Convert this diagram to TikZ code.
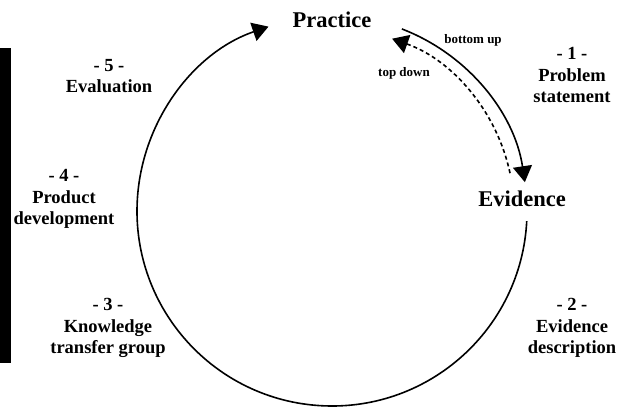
\documentclass[tikz,border=0pt]{standalone}
\usepackage{fontspec}
\setmainfont{Liberation Serif}
\usepackage{tikz}
\usetikzlibrary{positioning,shapes,arrows,arrows.meta}

\tikzset{
  mainlabel/.style={font=\fontsize{22.5}{26}\selectfont\bfseries, inner sep=0pt},
  phaselabel/.style={font=\fontsize{18.5}{21.5}\selectfont\bfseries, align=center, inner sep=0pt},
  arclabel/.style={font=\fontsize{13}{15}\selectfont\bfseries, inner sep=0pt},
  cycle/.style={line width=1.6pt, -{Triangle[length=16pt,width=19pt]}}
}

\begin{document}
\begin{tikzpicture}[x=1pt,y=1pt]
\useasboundingbox (0,0) rectangle (627,408);

% side bar
\fill[black] (0,45) rectangle (11,360);

\coordinate (hub) at (332,197);

\node[mainlabel] (practice) at (332,388) {Practice};
\node[mainlabel] (evidence) at (522,209) {Evidence};

\node[arclabel] (bottomup) at (473,368) {bottom up};
\node[arclabel] (topdown) at (404,335) {top down};

\node[phaselabel] (phase1) at (572,333) {- 1 -\\Problem\\statement};
\node[phaselabel] (phase2) at (572,80) {- 2 -\\Evidence\\description};
\node[phaselabel] (phase3) at (108,80) {- 3 -\\Knowledge\\transfer group};
\node[phaselabel] (phase4) at (64,209) {- 4 -\\Product\\development};
\node[phaselabel] (phase5) at (109,332) {- 5 -\\Evaluation};

% big cycle evidence -> practice
\draw[cycle] ([shift={(-3:195)}]hub) arc[start angle=-3, end angle=-251, radius=195];

% bottom up / top down
\draw[cycle] ([shift={(69:195)}]hub) arc[start angle=69, end angle=8.5, radius=195];
\draw[cycle, dash pattern=on 4pt off 3pt] ([shift={(12:182)}]hub) arc[start angle=12, end angle=70.5, radius=183];
\end{tikzpicture}
\end{document}
